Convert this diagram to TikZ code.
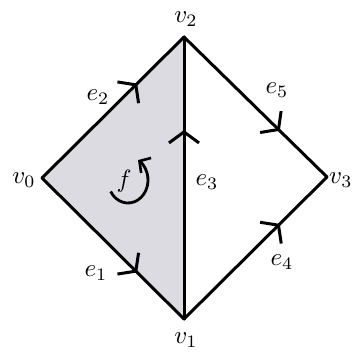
\documentclass[tikz,border=0pt]{standalone}
\usetikzlibrary{arrows.meta,decorations.markings}
\definecolor{facegray}{RGB}{220,219,226}
\newcommand{\biglab}[1]{\scalebox{2.5}{$#1$}}
\tikzset{
  edge/.style={line width=3pt, line cap=round, line join=round, postaction={decorate},
    decoration={markings, mark=at position 0.67 with {\arrow{Straight Barb[length=11pt,width=30pt,line width=3pt]}}}},
  lbl/.style={inner sep=0pt}
}
\begin{document}
\begin{tikzpicture}[x=1pt,y=1pt]
\useasboundingbox (0,0) rectangle (354,-358);
\coordinate (v0) at (42,-178);
\coordinate (v1) at (184,-319);
\coordinate (v2) at (184,-37);
\coordinate (v3) at (327,-177);
\fill[facegray] (v0) -- (v2) -- (v1) -- cycle;
\draw[edge] (v0) -- (v2);
\draw[edge] (v0) -- (v1);
\draw[edge] (v1) -- (v2);
\draw[edge] (v1) -- (v3);
\draw[edge] (v2) -- (v3);
\node[lbl] (lv0) at (24,-180) {\biglab{v_0}};
\node[lbl] (lv1) at (186,-340) {\biglab{v_1}};
\node[lbl] (lv2) at (186,-19) {\biglab{v_2}};
\node[lbl, anchor=west] (lv3) at (329,-180) {\biglab{v_3}};
\node[lbl] (le1) at (96,-273) {\biglab{e_1}};
\node[lbl] (le2) at (98,-97) {\biglab{e_2}};
\node[lbl] (le3) at (207,-182) {\biglab{e_3}};
\node[lbl] (le4) at (282,-262) {\biglab{e_4}};
\node[lbl] (le5) at (277,-90) {\biglab{e_5}};
\node[lbl] (lf) at (124,-181) {\biglab{f}};
\coordinate (fc) at (128,-180);
\draw[line width=2.8pt, -{Straight Barb[length=8pt,width=18pt,line width=2.6pt]}]
  ([shift={(210:20pt and 23pt)}]fc) arc[start angle=210, end angle=420, x radius=20pt, y radius=23pt];
\end{tikzpicture}
\end{document}
